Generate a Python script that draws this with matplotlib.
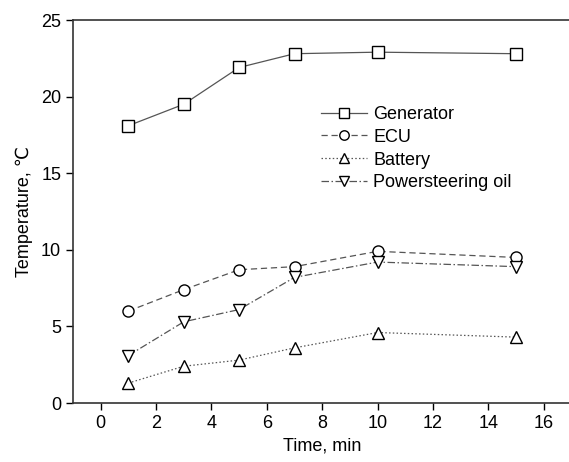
import matplotlib
matplotlib.use("Agg")
import matplotlib.pyplot as plt

plt.rcParams['font.family'] = ['Liberation Sans', 'DejaVu Sans']

time = [1, 3, 5, 7, 10, 15]
generator = [18.1, 19.5, 21.9, 22.8, 22.9, 22.8]
ecu = [6.0, 7.4, 8.7, 8.9, 9.9, 9.5]
battery = [1.3, 2.4, 2.8, 3.6, 4.6, 4.3]
ps_oil = [3.1, 5.3, 6.1, 8.2, 9.2, 8.9]
labels = ["Generator", "ECU", "Battery", "Powersteering oil"]

fig = plt.figure(figsize=(5.69, 4.62), dpi=100)
ax = fig.add_axes([73/569, 59/462, 498.4/569, 383/462])

lc = '#555555'
kw = dict(color=lc, lw=0.9, markersize=8.0, markerfacecolor='white',
          markeredgecolor='black', markeredgewidth=1.0)
ax.plot(time, generator, linestyle='-', marker='s', label=labels[0], **kw)
ax.plot(time, ecu, linestyle=(0, (5, 3)), marker='o', label=labels[1], **kw)
ax.plot(time, battery, linestyle=(0, (1.2, 1.8)), marker='^', label=labels[2], **kw)
ax.plot(time, ps_oil, linestyle=(0, (6, 2, 1.2, 2)), marker='v', label=labels[3], **kw)

ax.set_xlim(-1, 17)
ax.set_ylim(0, 25)
ax.set_xticks(range(0, 17, 2))
ax.set_yticks(range(0, 26, 5))
ax.tick_params(direction='out', length=5, width=1, labelsize=13, colors='black')
for s in ax.spines.values():
    s.set_linewidth(1.2)
    s.set_color('#333333')

ax.set_xlabel("Time, min", fontsize=13, labelpad=4)
ax.set_ylabel("Temperature, ℃", fontsize=13, labelpad=6)

leg = ax.legend(loc='upper left', bbox_to_anchor=(321/569, 1 - 106/462),
                bbox_transform=fig.transFigure, frameon=False, borderpad=0,
                borderaxespad=0, fontsize=13, handlelength=2.55,
                handletextpad=0.35, labelspacing=0.32, markerscale=0.85)

fig.savefig("out.png", dpi=100)
